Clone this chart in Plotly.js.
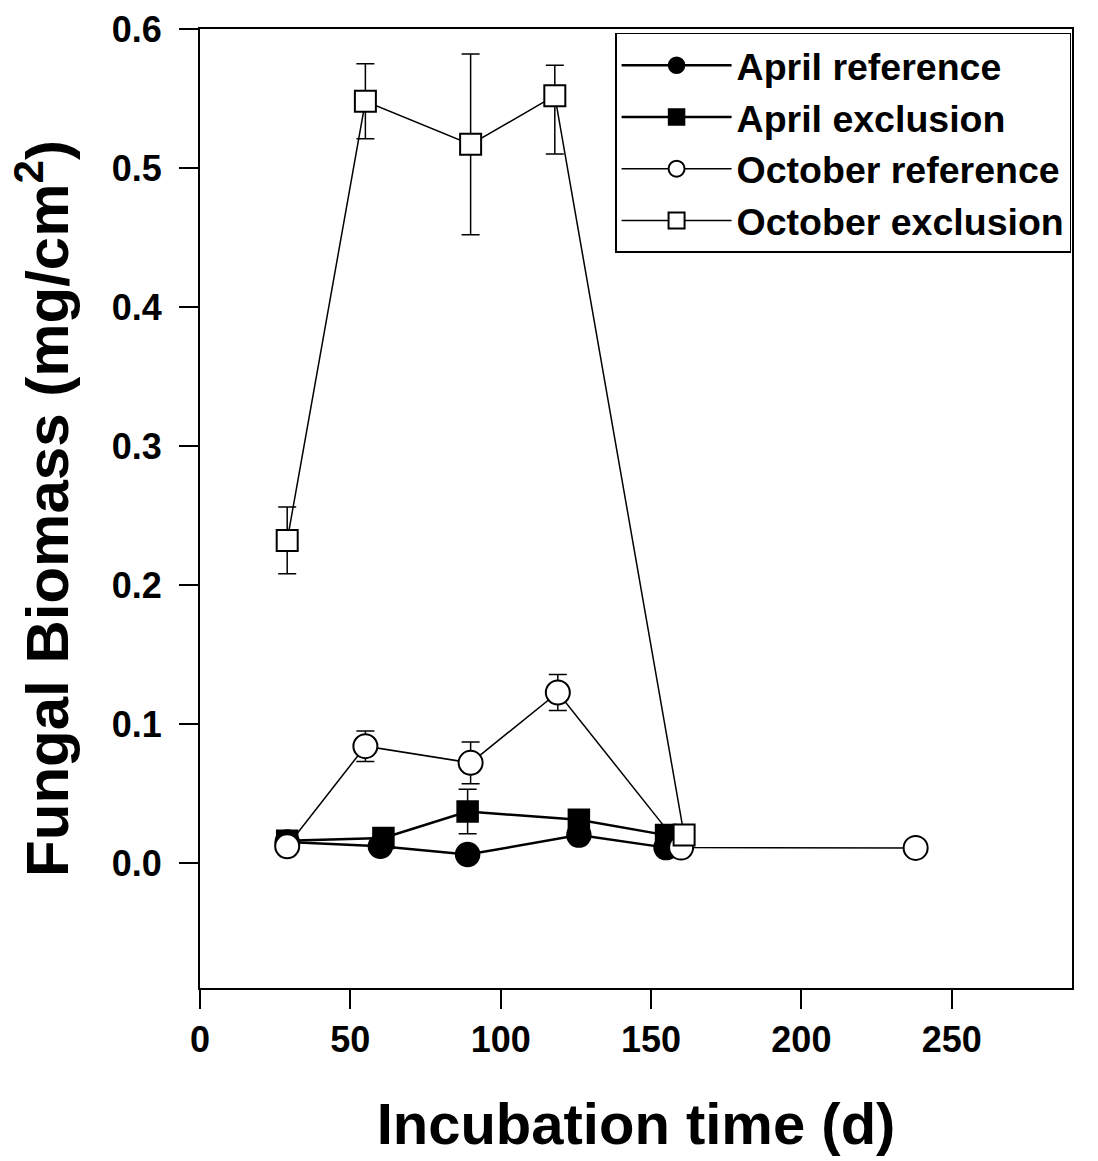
<!DOCTYPE html>
<html>
<head>
<meta charset="utf-8">
<script src="https://cdn.plot.ly/plotly-3.0.1.min.js"></script>
<style>html,body{margin:0;padding:0;background:#fff;}</style>
</head>
<body>
<div id="chart" style="width:1098px;height:1161px;"></div>
<script>
// Data
const aprRefX = [29, 60, 89, 126, 155];
const aprRefY = [0.015, 0.012, 0.006, 0.020, 0.011];

const aprExcX = [29, 61, 89, 126, 155];
const aprExcY = [0.016, 0.018, 0.037, 0.031, 0.020];
const aprExcErr = [0, 0, 0.016, 0, 0];

const octRefX = [29, 55, 90, 119, 160, 238];
const octRefY = [0.012, 0.084, 0.072, 0.1226, 0.011, 0.0108];
const octRefErr = [0, 0.011, 0.015, 0.013, 0, 0];

const octExcX = [29, 55, 90, 118, 161];
const octExcY = [0.232, 0.548, 0.517, 0.552, 0.020];
const octExcErrPlus = [0.024, 0.027, 0.065, 0.022, 0];
const octExcErrMinus = [0.024, 0.027, 0.065, 0.042, 0];

const xTicks = [0, 50, 100, 150, 200, 250];
const yTicks = [0.0, 0.1, 0.2, 0.3, 0.4, 0.5, 0.6];

const FONT = '"Liberation Sans", Arial, Helvetica, sans-serif';

const errStyle = {type: 'data', visible: true, color: '#000', thickness: 1.5, width: 9};

const traces = [
  {
    name: 'April reference', x: aprRefX, y: aprRefY, mode: 'lines+markers', type: 'scatter',
    line: {color: '#000', width: 2.5},
    marker: {symbol: 'circle', size: 24, color: '#000', line: {color: '#000', width: 1.5}}
  },
  {
    name: 'April exclusion', x: aprExcX, y: aprExcY, mode: 'lines+markers', type: 'scatter',
    line: {color: '#000', width: 2.5},
    marker: {symbol: 'square', size: 21, color: '#000', line: {color: '#000', width: 1.5}},
    error_y: Object.assign({array: aprExcErr}, errStyle)
  },
  {
    name: 'October reference', x: octRefX, y: octRefY, mode: 'lines+markers', type: 'scatter',
    line: {color: '#000', width: 1.5},
    marker: {symbol: 'circle', size: 24, color: '#fff', line: {color: '#000', width: 2}},
    error_y: Object.assign({array: octRefErr}, errStyle)
  },
  {
    name: 'October exclusion', x: octExcX, y: octExcY, mode: 'lines+markers', type: 'scatter',
    line: {color: '#000', width: 1.5},
    marker: {symbol: 'square', size: 21, color: '#fff', line: {color: '#000', width: 2}},
    error_y: Object.assign({array: octExcErrPlus, arrayminus: octExcErrMinus, symmetric: false}, errStyle)
  }
];

const layout = {
  width: 1098, height: 1161,
  margin: {l: 200, r: 26, t: 29, b: 173, pad: 0},
  paper_bgcolor: '#fff', plot_bgcolor: '#fff',
  font: {family: FONT, color: '#000', weight: 'bold'},
  showlegend: true,
  legend: {
    x: 0.476, y: 0.996, xanchor: 'left', yanchor: 'top',
    bgcolor: '#fff', bordercolor: '#000', borderwidth: 1.5,
    font: {family: FONT, size: 37.5, color: '#000', weight: 'bold'},
    itemwidth: 110, tracegroupgap: 0
  },
  xaxis: {
    range: [0, 290], tickvals: xTicks, ticktext: xTicks.map(String), tickmode: 'array',
    ticks: 'outside', ticklen: 19, tickwidth: 2, tickcolor: '#000',
    showline: true, linewidth: 2, linecolor: '#000', mirror: true,
    showgrid: false, zeroline: false,
    tickfont: {family: FONT, size: 36, color: '#000', weight: 'bold'},
    title: {text: 'Incubation time (d)', font: {family: FONT, size: 58, color: '#000', weight: 'bold'}, standoff: 44},
    automargin: false
  },
  yaxis: {
    range: [-0.09, 0.6], tickvals: yTicks, ticktext: yTicks.map(v => v.toFixed(1)), tickmode: 'array',
    ticks: 'outside', ticklen: 19, tickwidth: 2, tickcolor: '#000',
    showline: true, linewidth: 2, linecolor: '#000', mirror: true,
    showgrid: false, zeroline: false,
    ticklabelstandoff: 10,
    tickfont: {family: FONT, size: 36, color: '#000', weight: 'bold'},
    title: {text: 'Fungal Biomass (mg/cm<sup>2</sup>)', font: {family: FONT, size: 60, color: '#000', weight: 'bold'}, standoff: 24},
    automargin: false
  }
};

Plotly.newPlot('chart', traces, layout, {displayModeBar: false, staticPlot: true});
</script>
</body>
</html>
